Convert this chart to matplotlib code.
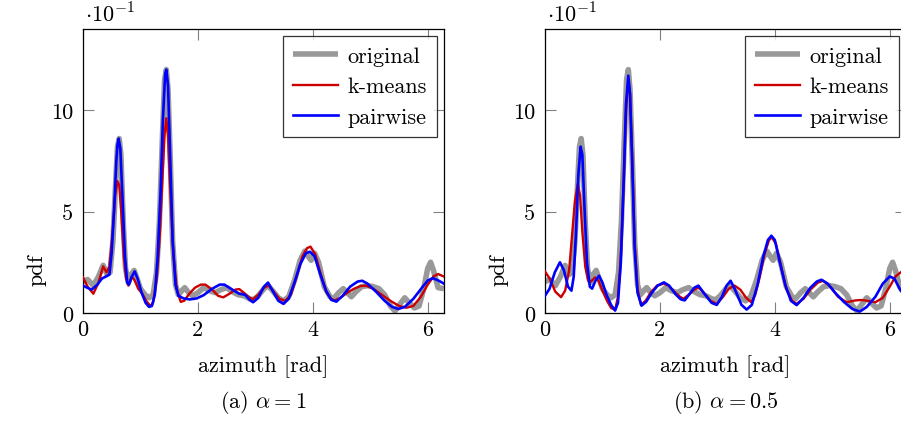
import numpy as np
import matplotlib
matplotlib.use("Agg")
import matplotlib.pyplot as plt

plt.rcParams['font.family'] = 'serif'
plt.rcParams['font.serif'] = ['cmr10']
plt.rcParams['mathtext.fontset'] = 'cm'
plt.rcParams['axes.unicode_minus'] = False
plt.rcParams['axes.formatter.use_mathtext'] = True

FS = 16

# ---------------- data (values in units of 10^-1) ----------------
orig_x = [0.00, 0.08, 0.18, 0.27, 0.35, 0.42, 0.47, 0.52, 0.57, 0.60, 0.63, 0.66, 0.70, 0.74,
          0.79, 0.84, 0.89, 0.94, 1.00, 1.08, 1.15, 1.22, 1.28, 1.33, 1.38, 1.42, 1.45, 1.48,
          1.52, 1.56, 1.61, 1.66, 1.72, 1.77, 1.84, 1.91, 2.00, 2.10, 2.20, 2.30, 2.40, 2.50,
          2.60, 2.70, 2.80, 2.90, 2.97, 3.05, 3.15, 3.22, 3.30, 3.40, 3.49, 3.58, 3.68, 3.78,
          3.86, 3.92, 3.97, 4.03, 4.10, 4.20, 4.30, 4.36, 4.45, 4.53, 4.60, 4.67, 4.75, 4.85,
          4.95, 5.05, 5.15, 5.25, 5.35, 5.43, 5.52, 5.60, 5.68, 5.77, 5.85, 5.93, 6.00, 6.05,
          6.10, 6.18, 6.28]
orig_y = [1.55, 1.65, 1.35, 1.80, 2.35, 1.90, 2.00, 3.50, 6.50, 8.20, 8.60, 7.80, 4.50, 2.20,
          1.50, 1.90, 2.10, 1.70, 1.20, 0.90, 0.75, 0.90, 2.00, 4.50, 8.50, 11.5, 12.0, 11.0,
          7.50, 3.50, 1.40, 0.90, 1.10, 1.25, 1.00, 0.85, 1.00, 1.25, 1.10, 1.00, 1.15, 1.25,
          1.05, 0.90, 0.85, 0.70, 0.65, 0.85, 1.20, 1.35, 1.10, 0.75, 0.60, 0.80, 1.60, 2.60,
          3.05, 2.80, 2.60, 2.95, 2.50, 1.30, 0.80, 0.70, 1.00, 1.20, 1.00, 0.80, 1.05, 1.30,
          1.35, 1.30, 1.20, 0.90, 0.35, 0.10, 0.45, 0.75, 0.50, 0.25, 0.35, 1.20, 2.20, 2.50,
          2.10, 1.25, 1.20]

# (a) alpha = 1
km1_x = [0.00, 0.08, 0.18, 0.27, 0.35, 0.41, 0.46, 0.51, 0.56, 0.60, 0.63, 0.67, 0.71, 0.75,
         0.79, 0.85, 0.90, 0.96, 1.02, 1.10, 1.17, 1.22, 1.28, 1.33, 1.38, 1.42, 1.45, 1.48,
         1.52, 1.57, 1.63, 1.70, 1.76, 1.85, 1.95, 2.05, 2.13, 2.25, 2.35, 2.44, 2.55, 2.65,
         2.72, 2.82, 2.90, 2.96, 3.05, 3.15, 3.23, 3.32, 3.42, 3.52, 3.62, 3.72, 3.82, 3.90,
         3.96, 4.04, 4.14, 4.24, 4.32, 4.38, 4.48, 4.60, 4.72, 4.83, 4.92, 5.05, 5.20, 5.35,
         5.50, 5.63, 5.75, 5.88, 6.00, 6.10, 6.18, 6.28]
km1_y = [1.76, 1.30, 0.95, 1.50, 2.30, 2.00, 2.30, 3.80, 5.80, 6.50, 6.30, 4.80, 2.80, 1.70,
         1.35, 1.80, 1.60, 1.20, 1.00, 0.60, 0.35, 0.50, 1.60, 3.50, 6.50, 8.80, 9.60, 8.70,
         6.00, 3.00, 1.20, 0.55, 0.60, 0.95, 1.25, 1.40, 1.40, 1.15, 0.85, 0.77, 0.95, 1.15,
         1.18, 0.95, 0.75, 0.69, 0.90, 1.25, 1.35, 1.05, 0.70, 0.60, 0.90, 1.80, 2.80, 3.20,
         3.27, 2.90, 1.90, 1.00, 0.70, 0.62, 0.75, 1.00, 1.20, 1.33, 1.35, 1.20, 0.90, 0.60,
         0.35, 0.26, 0.35, 0.80, 1.40, 1.80, 1.92, 1.80]

pw1_x = [0.00, 0.07, 0.15, 0.25, 0.33, 0.40, 0.46, 0.50, 0.54, 0.58, 0.60, 0.62, 0.65, 0.69,
         0.73, 0.77, 0.80, 0.85, 0.90, 0.95, 1.02, 1.09, 1.15, 1.20, 1.25, 1.30, 1.35, 1.39,
         1.43, 1.45, 1.48, 1.52, 1.56, 1.61, 1.66, 1.75, 1.86, 1.98, 2.10, 2.25, 2.38, 2.46,
         2.60, 2.72, 2.82, 2.90, 2.96, 3.05, 3.15, 3.22, 3.30, 3.40, 3.49, 3.58, 3.68, 3.78,
         3.88, 3.95, 4.03, 4.13, 4.23, 4.32, 4.41, 4.52, 4.65, 4.78, 4.86, 4.95, 5.10, 5.25,
         5.38, 5.49, 5.60, 5.75, 5.90, 6.00, 6.09, 6.20, 6.28]
pw1_y = [1.35, 1.25, 1.15, 1.40, 1.70, 1.80, 1.90, 3.00, 5.00, 7.50, 8.30, 8.60, 8.10, 5.50,
         2.80, 1.50, 1.40, 1.80, 2.05, 1.70, 1.00, 0.50, 0.30, 0.35, 0.90, 2.80, 6.00, 9.50,
         11.8, 12.0, 11.2, 7.50, 3.60, 1.40, 0.85, 0.72, 0.67, 0.72, 0.88, 1.20, 1.40, 1.40,
         1.15, 0.95, 0.90, 0.65, 0.53, 0.75, 1.30, 1.50, 1.10, 0.60, 0.45, 0.70, 1.50, 2.40,
         2.95, 3.02, 2.80, 1.90, 1.10, 0.65, 0.56, 0.85, 1.30, 1.55, 1.59, 1.45, 1.05, 0.60,
         0.30, 0.20, 0.30, 0.70, 1.25, 1.60, 1.72, 1.58, 1.45]

# (b) alpha = 0.5
km2_x = [0.00, 0.08, 0.18, 0.28, 0.35, 0.42, 0.47, 0.52, 0.57, 0.61, 0.65, 0.70, 0.75, 0.80,
         0.87, 0.93, 1.00, 1.08, 1.15, 1.22, 1.27, 1.32, 1.37, 1.41, 1.45, 1.48, 1.52, 1.56,
         1.61, 1.67, 1.75, 1.85, 1.95, 2.07, 2.15, 2.25, 2.35, 2.41, 2.50, 2.60, 2.67, 2.75,
         2.88, 2.99, 3.10, 3.20, 3.30, 3.40, 3.50, 3.59, 3.66, 3.74, 3.82, 3.90, 3.95, 4.02,
         4.10, 4.20, 4.30, 4.38, 4.50, 4.62, 4.75, 4.84, 4.95, 5.10, 5.25, 5.40, 5.50, 5.62,
         5.75, 5.88, 6.00, 6.10, 6.19, 6.28]
km2_y = [2.05, 1.70, 1.05, 0.78, 1.10, 2.10, 3.80, 5.50, 6.35, 5.80, 4.00, 2.30, 1.60, 1.55,
         1.75, 1.60, 1.10, 0.60, 0.25, 0.15, 0.80, 2.80, 6.50, 10.0, 11.5, 10.8, 7.50, 3.50,
         1.20, 0.40, 0.60, 1.05, 1.35, 1.45, 1.35, 1.05, 0.80, 0.70, 0.90, 1.15, 1.25, 1.05,
         0.60, 0.45, 0.80, 1.20, 1.35, 1.15, 0.75, 0.53, 0.90, 1.80, 2.90, 3.60, 3.73, 3.40,
         2.40, 1.20, 0.60, 0.45, 0.70, 1.15, 1.50, 1.59, 1.35, 0.80, 0.53, 0.62, 0.64, 0.60,
         0.53, 0.75, 1.30, 1.80, 2.00, 2.20]

pw2_x = [0.00, 0.08, 0.17, 0.26, 0.33, 0.40, 0.46, 0.50, 0.54, 0.58, 0.62, 0.65, 0.69, 0.73,
         0.78, 0.82, 0.88, 0.94, 1.00, 1.07, 1.15, 1.22, 1.27, 1.32, 1.37, 1.41, 1.45, 1.48,
         1.52, 1.56, 1.61, 1.68, 1.76, 1.86, 1.96, 2.07, 2.16, 2.28, 2.36, 2.43, 2.52, 2.60,
         2.67, 2.76, 2.90, 2.99, 3.08, 3.16, 3.23, 3.30, 3.42, 3.51, 3.60, 3.70, 3.80, 3.88,
         3.94, 4.00, 4.08, 4.18, 4.28, 4.38, 4.50, 4.62, 4.73, 4.81, 4.92, 5.05, 5.20, 5.35,
         5.48, 5.60, 5.75, 5.88, 6.00, 6.08, 6.19, 6.28]
pw2_y = [0.85, 1.20, 2.00, 2.50, 2.10, 1.30, 1.10, 1.80, 4.00, 6.80, 8.20, 7.80, 5.00, 2.50,
         1.30, 1.20, 1.60, 1.84, 1.50, 0.90, 0.40, 0.12, 0.50, 2.50, 6.50, 10.3, 11.7, 10.8,
         7.20, 3.20, 1.00, 0.36, 0.55, 1.00, 1.35, 1.51, 1.35, 0.90, 0.68, 0.62, 0.95, 1.25,
         1.35, 1.00, 0.50, 0.40, 0.80, 1.35, 1.59, 1.20, 0.40, 0.17, 0.40, 1.40, 2.80, 3.60,
         3.81, 3.60, 2.60, 1.40, 0.60, 0.39, 0.75, 1.25, 1.55, 1.64, 1.45, 1.00, 0.55, 0.20,
         0.07, 0.30, 0.80, 1.45, 1.80, 1.70, 1.10, 0.85]

series_labels = ['original', 'k-means', 'pairwise']
captions = [r'(a) $\alpha = 1$', r'(b) $\alpha = 0.5$']
xticks = [0, 2, 4, 6]
yticks = [0, 5, 10]

# ---------------- figure ----------------
W, H = 901, 427
fig = plt.figure(figsize=(W / 100, H / 100), dpi=100)

def px2fig(x0, y0, x1, y1):
    return [x0 / W, 1 - y1 / H, (x1 - x0) / W, (y1 - y0) / H]

GRAY = (0.6, 0.6, 0.6)
RED = (0.8, 0.0, 0.0)
BLUE = (0.0, 0.0, 1.0)

panels = [
    (83, (km1_x, km1_y), (pw1_x, pw1_y)),
    (545, (km2_x, km2_y), (pw2_x, pw2_y)),
]

for i, (left, km, pw) in enumerate(panels):
    ax = fig.add_axes(px2fig(left, 30, left + 361, 314))
    ax.plot(orig_x, orig_y, color=GRAY, lw=4.0, solid_joinstyle='round',
            solid_capstyle='butt', label=series_labels[0], zorder=2)
    ax.plot(km[0], km[1], color=RED, lw=1.7, solid_joinstyle='round',
            label=series_labels[1], zorder=3)
    ax.plot(pw[0], pw[1], color=BLUE, lw=1.9, solid_joinstyle='round',
            label=series_labels[2], zorder=4)
    ax.set_xlim(0, 2 * np.pi)
    ax.set_ylim(0, 14)
    ax.set_xticks(xticks)
    ax.set_yticks(yticks)
    ax.set_xticklabels([str(t) for t in xticks], fontsize=FS)
    ax.set_yticklabels([str(t) for t in yticks], fontsize=FS)
    ax.tick_params(direction='in', length=8, width=0.8, color='0.5',
                   top=True, right=True, pad=5)
    ax.tick_params(axis='y', pad=7)
    for s in ax.spines.values():
        s.set_linewidth(0.9)
        s.set_color('black')
    leg = ax.legend(loc='upper right', bbox_to_anchor=(0.981, 0.975),
                    borderaxespad=0, fontsize=FS, frameon=True, fancybox=False,
                    edgecolor='black', handlelength=2.0, handletextpad=0.45,
                    labelspacing=0.5, borderpad=0.45)
    leg.get_frame().set_linewidth(0.9)
    cx = left + 361 / 2
    fig.text((left - 46) / W, 1 - 270 / H, 'pdf', rotation=90, ha='center',
             va='center', fontsize=FS)
    fig.text(cx / W, 1 - 367 / H, 'azimuth [rad]', ha='center', va='center',
             fontsize=FS)
    fig.text(cx / W, 1 - 403 / H, captions[i], ha='center', va='center',
             fontsize=FS)
    fig.text((left + 2) / W, 1 - 14 / H, r'$\cdot 10^{-1}$', ha='left',
             va='center', fontsize=FS)

fig.savefig('out.png', dpi=100)
